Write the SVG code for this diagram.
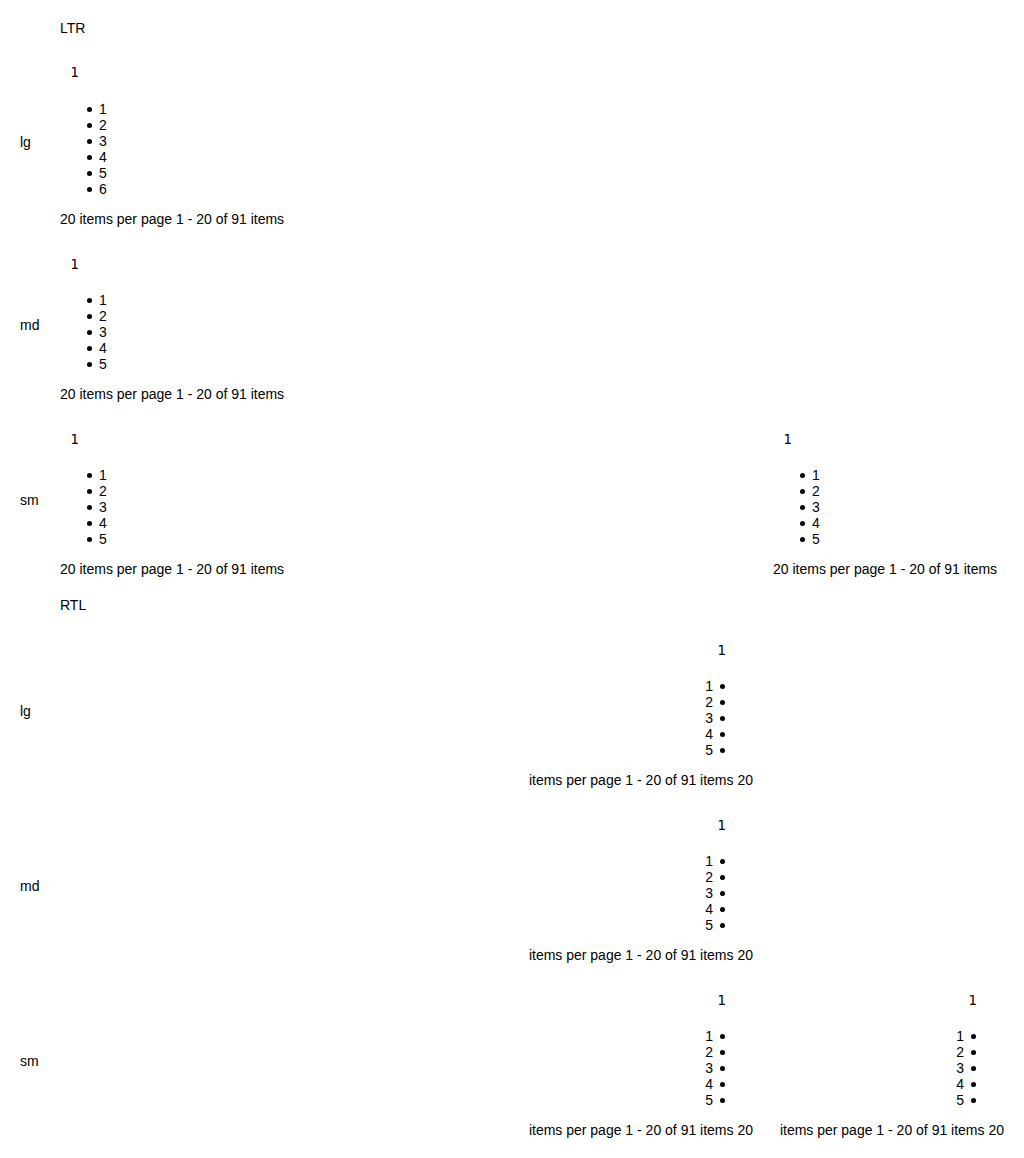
<svg xmlns="http://www.w3.org/2000/svg" width="1024" height="1158" viewBox="0 0 1024 1158">
<style>
text{font-family:"Liberation Sans",Arial,sans-serif;font-size:14px;fill:#000}
text.btn{font-family:"DejaVu Sans",sans-serif;font-size:13.33px}
text.r{text-anchor:end}
circle{fill:#000}
</style>
<defs>
<circle id="b" r="2.5"/>
</defs>
<rect width="1024" height="1158" fill="#fff"/>
<g id="ltr">
<text x="60" y="33">LTR</text>
<g id="ltr-lg">
<text x="20" y="147">lg</text>
<text class="btn" x="70.5" y="77">1</text>
<use href="#b" x="89.5" y="109.5"/><text x="99" y="114">1</text>
<use href="#b" x="89.5" y="125.5"/><text x="99" y="130">2</text>
<use href="#b" x="89.5" y="141.5"/><text x="99" y="146">3</text>
<use href="#b" x="89.5" y="157.5"/><text x="99" y="162">4</text>
<use href="#b" x="89.5" y="173.5"/><text x="99" y="178">5</text>
<use href="#b" x="89.5" y="189.5"/><text x="99" y="194">6</text>
<text x="60" y="224">20 items per page 1 - 20 of 91 items</text>
</g>
<g id="ltr-md">
<text x="20" y="330">md</text>
<text class="btn" x="70.5" y="269">1</text>
<use href="#b" x="89.5" y="300.5"/><text x="99" y="305">1</text>
<use href="#b" x="89.5" y="316.5"/><text x="99" y="321">2</text>
<use href="#b" x="89.5" y="332.5"/><text x="99" y="337">3</text>
<use href="#b" x="89.5" y="348.5"/><text x="99" y="353">4</text>
<use href="#b" x="89.5" y="364.5"/><text x="99" y="369">5</text>
<text x="60" y="399">20 items per page 1 - 20 of 91 items</text>
</g>
<g id="ltr-sm">
<text x="20" y="505">sm</text>
<text class="btn" x="70.5" y="444">1</text>
<use href="#b" x="89.5" y="475.5"/><text x="99" y="480">1</text>
<use href="#b" x="89.5" y="491.5"/><text x="99" y="496">2</text>
<use href="#b" x="89.5" y="507.5"/><text x="99" y="512">3</text>
<use href="#b" x="89.5" y="523.5"/><text x="99" y="528">4</text>
<use href="#b" x="89.5" y="539.5"/><text x="99" y="544">5</text>
<text x="60" y="574">20 items per page 1 - 20 of 91 items</text>
</g>
<g id="ltr-sm-2">
<text class="btn" x="783.5" y="444">1</text>
<use href="#b" x="802.5" y="475.5"/><text x="812" y="480">1</text>
<use href="#b" x="802.5" y="491.5"/><text x="812" y="496">2</text>
<use href="#b" x="802.5" y="507.5"/><text x="812" y="512">3</text>
<use href="#b" x="802.5" y="523.5"/><text x="812" y="528">4</text>
<use href="#b" x="802.5" y="539.5"/><text x="812" y="544">5</text>
<text x="773" y="574">20 items per page 1 - 20 of 91 items</text>
</g>
</g>
<g id="rtl">
<text x="60" y="610">RTL</text>
<g id="rtl-lg">
<text x="20" y="716">lg</text>
<text class="btn" x="717.5" y="655">1</text>
<text class="r" x="713" y="691">1</text><use href="#b" x="722.5" y="686.5"/>
<text class="r" x="713" y="707">2</text><use href="#b" x="722.5" y="702.5"/>
<text class="r" x="713" y="723">3</text><use href="#b" x="722.5" y="718.5"/>
<text class="r" x="713" y="739">4</text><use href="#b" x="722.5" y="734.5"/>
<text class="r" x="713" y="755">5</text><use href="#b" x="722.5" y="750.5"/>
<text class="r" x="753" y="785">items per page 1 - 20 of 91 items 20</text>
</g>
<g id="rtl-md">
<text x="20" y="891">md</text>
<text class="btn" x="717.5" y="830">1</text>
<text class="r" x="713" y="866">1</text><use href="#b" x="722.5" y="861.5"/>
<text class="r" x="713" y="882">2</text><use href="#b" x="722.5" y="877.5"/>
<text class="r" x="713" y="898">3</text><use href="#b" x="722.5" y="893.5"/>
<text class="r" x="713" y="914">4</text><use href="#b" x="722.5" y="909.5"/>
<text class="r" x="713" y="930">5</text><use href="#b" x="722.5" y="925.5"/>
<text class="r" x="753" y="960">items per page 1 - 20 of 91 items 20</text>
</g>
<g id="rtl-sm">
<text x="20" y="1066">sm</text>
<text class="btn" x="717.5" y="1005">1</text>
<text class="r" x="713" y="1041">1</text><use href="#b" x="722.5" y="1036.5"/>
<text class="r" x="713" y="1057">2</text><use href="#b" x="722.5" y="1052.5"/>
<text class="r" x="713" y="1073">3</text><use href="#b" x="722.5" y="1068.5"/>
<text class="r" x="713" y="1089">4</text><use href="#b" x="722.5" y="1084.5"/>
<text class="r" x="713" y="1105">5</text><use href="#b" x="722.5" y="1100.5"/>
<text class="r" x="753" y="1135">items per page 1 - 20 of 91 items 20</text>
</g>
<g id="rtl-sm-2">
<text class="btn" x="968.5" y="1005">1</text>
<text class="r" x="964" y="1041">1</text><use href="#b" x="973.5" y="1036.5"/>
<text class="r" x="964" y="1057">2</text><use href="#b" x="973.5" y="1052.5"/>
<text class="r" x="964" y="1073">3</text><use href="#b" x="973.5" y="1068.5"/>
<text class="r" x="964" y="1089">4</text><use href="#b" x="973.5" y="1084.5"/>
<text class="r" x="964" y="1105">5</text><use href="#b" x="973.5" y="1100.5"/>
<text class="r" x="1004" y="1135">items per page 1 - 20 of 91 items 20</text>
</g>
</g>
</svg>
